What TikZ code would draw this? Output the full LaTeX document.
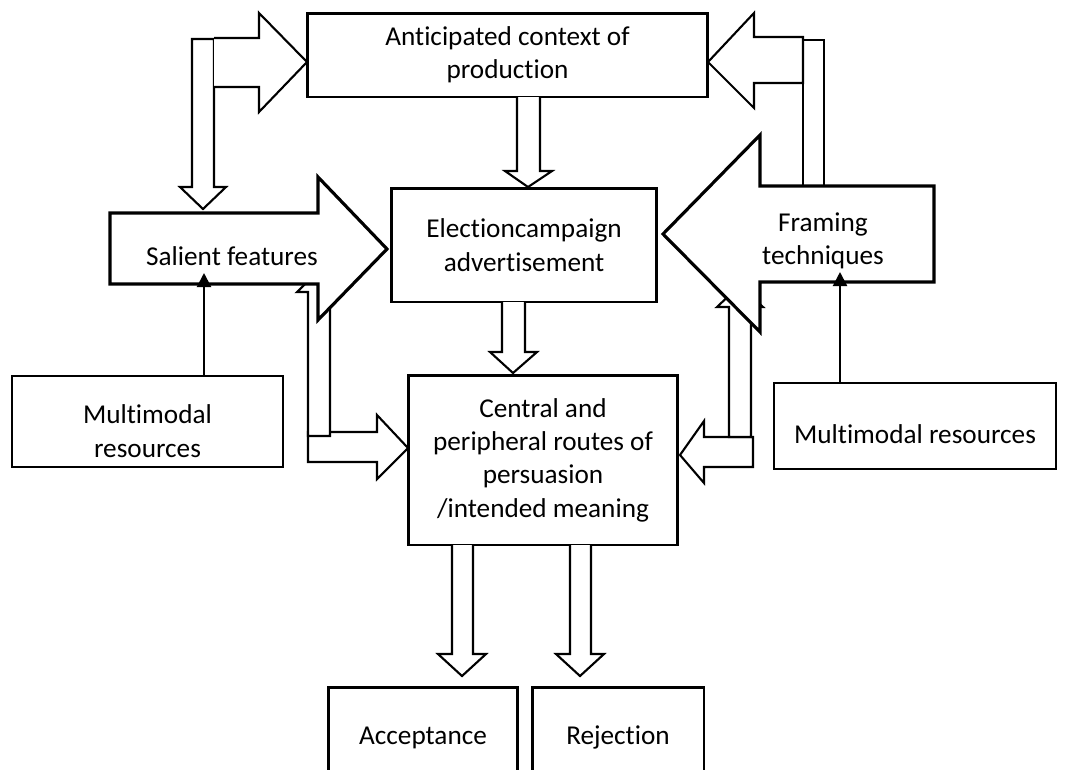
\documentclass[tikz,border=0pt]{standalone}
\usepackage{fontspec}
\setmainfont{Carlito}[Ligatures=NoCommon]
\usetikzlibrary{arrows.meta}
\tikzset{
  box/.style={draw, line width=1.7pt, align=center, inner sep=2pt},
  thinbox/.style={draw, line width=1.2pt, align=center, inner sep=2pt},
  endbox/.style={box, text height=0.75em, text depth=0.25em},
  blockarrow/.style={draw, line width=1.2pt, fill=white, line join=miter},
  bigarrow/.style={draw, line width=1.8pt, fill=white, line join=miter},
  thinarrow/.style={line width=1.2pt, -{Triangle[length=8pt,width=8pt]}},
}
% lower a text inside its box without changing the box
\newcommand{\lowertext}[2]{\raisebox{-#1}[\height][\depth]{\begin{tabular}{@{}c@{}}#2\end{tabular}}}

\begin{document}
\begin{tikzpicture}[x=0.02cm, y=-0.02cm, font=\fontsize{15.5}{19}\selectfont]
\clip (0,0) rectangle (1067,769);

% Boxes:
\node[box, minimum width=8.02cm, minimum height=1.68cm] (ctx) at (507.5,55) {Anticipated context of\\production};
\node[box, minimum width=5.32cm, minimum height=2.28cm] (elect) at (524,245) {Electioncampaign\\advertisement};
\node[box, minimum width=5.4cm, minimum height=3.4cm] (route) at (543,460) {Central and\\peripheral routes of\\persuasion\\/intended meaning};
\node[thinbox, minimum width=5.42cm, minimum height=1.82cm] (mmL) at (147.5,421.5) {\lowertext{7pt}{Multimodal\\resources}};
\node[thinbox, minimum width=5.64cm, minimum height=1.72cm] (mmR) at (915,426) {\lowertext{6pt}{Multimodal resources}};
\node[endbox, minimum width=3.8cm, minimum height=2.1cm] (acc) at (423,740) {Acceptance};
\node[endbox, minimum width=3.44cm, minimum height=2.1cm] (rej) at (618,740) {Rejection};

% Top left: down to salient features, right to the context box
\draw[blockarrow] (192,39) -- (192,187) -- (180,187) -- (203,209) -- (226,187) -- (214,187) -- (214,39) -- cycle;
\draw[blockarrow] (214,38) -- (259,38) -- (259,13) -- (307,62) -- (259,112) -- (259,87) -- (214,87);

% Top right: from framing techniques to the context box
\draw[blockarrow] (803,40) rectangle (824,200);
\draw[blockarrow] (803,37) -- (754,37) -- (754,13) -- (708,62) -- (754,108) -- (754,83) -- (803,83) -- cycle;

% Middle: context -> election -> routes
\draw[blockarrow] (517,97) -- (517,171) -- (505,171) -- (528,187) -- (552,171) -- (540,171) -- (540,97);
\draw[blockarrow] (502,302) -- (502,352) -- (490,352) -- (513,373) -- (537,352) -- (525,352) -- (525,302);

% Lower left: routes <-> salient features
\draw[blockarrow] (308,432) -- (377,432) -- (377,415) -- (408,448) -- (377,479) -- (377,462) -- (308,462) -- cycle;
\draw[blockarrow] (308,436) -- (308,292) -- (297,292) -- (319,270) -- (341,292) -- (330,292) -- (330,436) -- cycle;

% Lower right: routes <-> framing techniques
\draw[blockarrow] (753,437) -- (704,437) -- (704,421) -- (680,455) -- (704,483) -- (704,467) -- (753,467) -- cycle;
\draw[blockarrow] (729,437) -- (729,307) -- (717,307) -- (740,285) -- (763,307) -- (751,307) -- (751,437) -- cycle;

% Big arrows with text
\draw[bigarrow] (110,213) -- (318,213) -- (318,177) -- (387,249) -- (318,320) -- (318,284) -- (110,284) -- cycle;
\node (sal) at (232,256) {Salient features};
\draw[bigarrow] (934,186) -- (760,186) -- (760,135) -- (663,234) -- (760,332) -- (760,282) -- (934,282) -- cycle;
\node[align=center] (fram) at (823,241) {Framing\\techniques};

% Resources -> salient features / framing techniques
\coordinate (salB) at (204,273);
\coordinate (framB) at (840,272);
\draw[thinarrow] (mmL.north -| salB) -- (salB);
\draw[thinarrow] (mmR.north -| framB) -- (framB);

% Routes -> acceptance / rejection
\foreach \x in {462,580}{%
  \draw[blockarrow] (\x-10,545) -- (\x-10,654) -- (\x-24,654) -- (\x,676) -- (\x+24,654) -- (\x+11,654) -- (\x+11,545);
}
\end{tikzpicture}
\end{document}
